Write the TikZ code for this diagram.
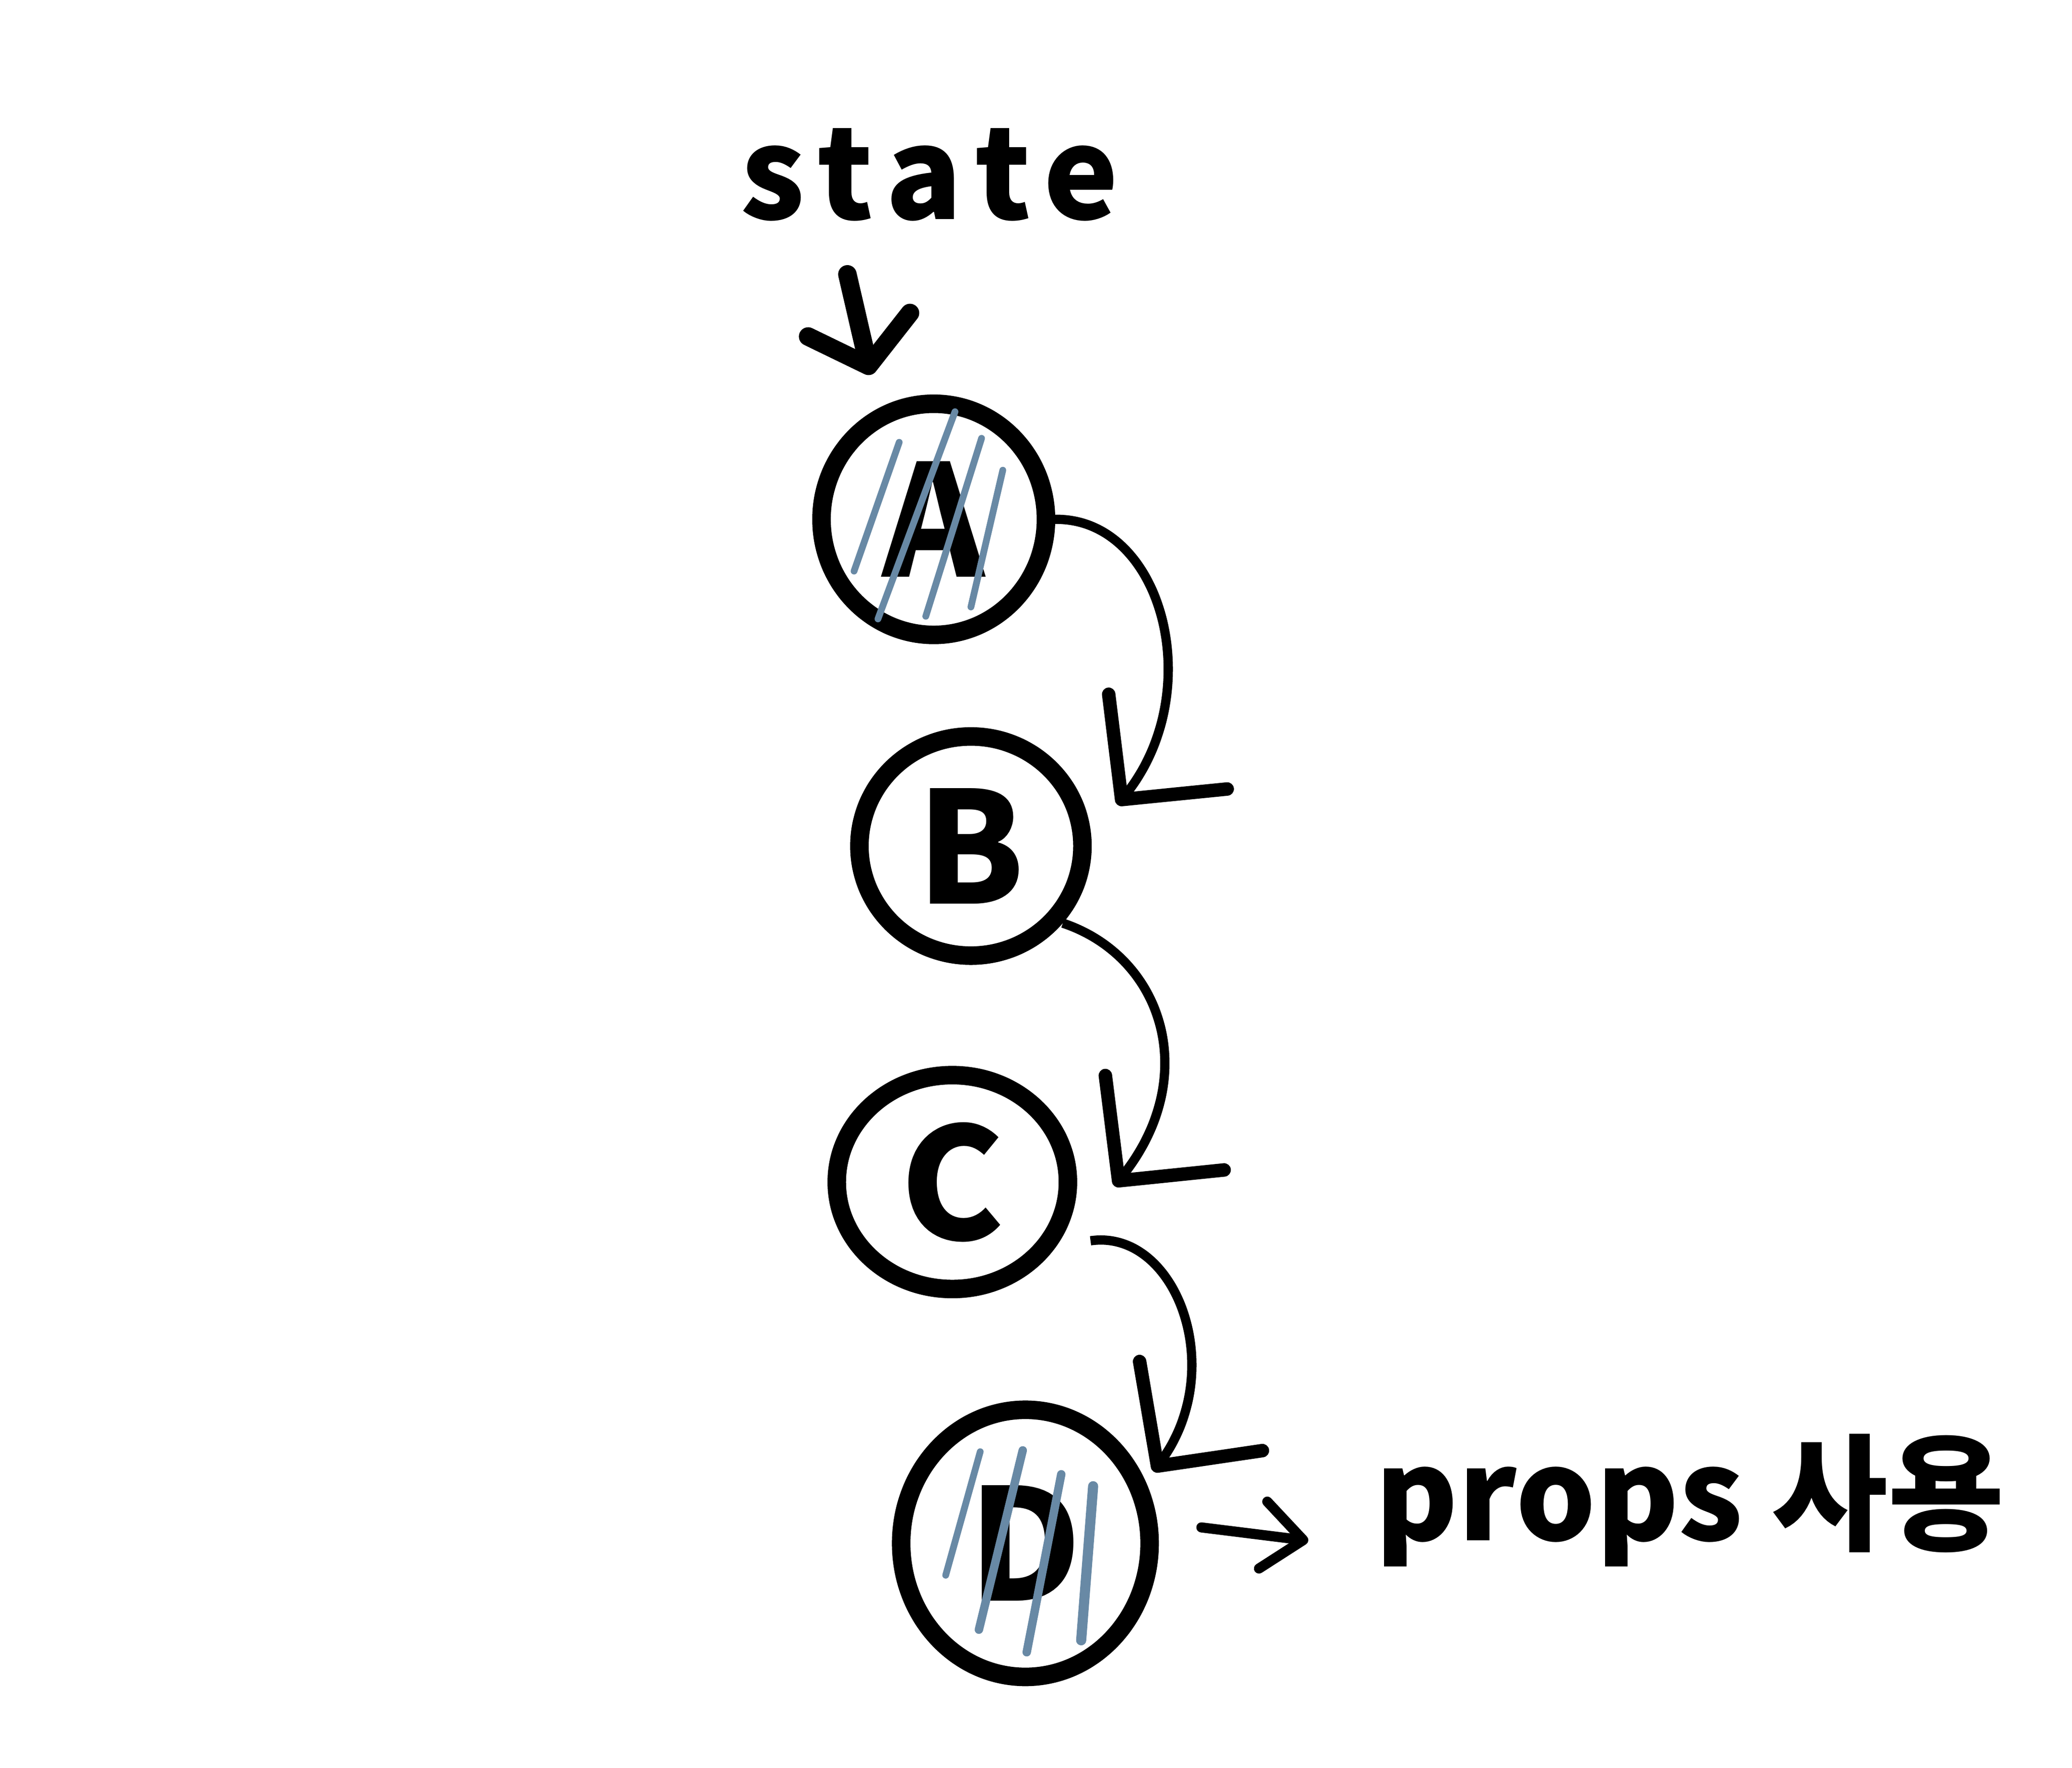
\documentclass[tikz,border=0pt]{standalone}
\usepackage{fontspec}
\setmainfont{Noto Sans CJK KR}
\usepackage{tikz}
\usetikzlibrary{shapes.geometric,arrows.meta,calc}
\definecolor{hatchblue}{RGB}{104,137,165}

\begin{document}
\begin{tikzpicture}[x=0.0277cm, y=-0.0277cm,
  ringnode/.style={ellipse, draw, line width=11pt, inner sep=0pt, font=\fontsize{92}{92}\selectfont\bfseries},
  hatch/.style={hatchblue, line width=4pt, line cap=round},
  flow/.style={line width=5.5pt, -{Straight Barb[length=44pt, width=90pt, line width=2.5pt 1, round]}},
  startarrow/.style={line width=11pt, line cap=round, -{Straight Barb[length=25pt, width=62pt, line width=0pt 1, round]}},
  pointer/.style={line width=6pt, line cap=round, -{Straight Barb[length=24pt, width=40pt, line width=0pt 1, round]}},
  label/.style={inner sep=0pt, font=\fontsize{75}{75}\selectfont\bfseries}]
\useasboundingbox (0,0) rectangle (1560,1331);

\node[label, anchor=base] (state) at (700,165) {\addfontfeature{LetterSpace=12}state};

\node[ringnode, minimum width=4.68cm, minimum height=4.82cm] (A) at (703,391) {A};
\node[ringnode, minimum width=4.65cm, minimum height=4.57cm] (B) at (731,637) {B};
\node[ringnode, minimum width=4.82cm, minimum height=4.46cm] (C) at (717,890) {C};
\node[ringnode, minimum width=5.18cm, minimum height=5.57cm] (D) at (772,1162) {D};

\node[label, anchor=base west] (props) at (1035,1160) {props 사용};

\draw[startarrow] ($(state.south)+(-62,40)$) -- ($(A.115)+(-8,-24)$);
\draw[flow] (A.east) .. controls (875,390) and (910,520) .. ($(B.20)+(25,0)$);
\draw[flow] (B.-40) .. controls (875,720) and (905,810) .. ($(C.east)+(28,3)$);
\draw[flow] ($(C.-25)+(20,5)$) .. controls (885,925) and (925,1030) .. ($(D.30)+(8,-3)$);
\draw[pointer] ($(D.east)+(32,-12)$) -- ($(props.base west)+(-50,0)$);

% strokes over A
\draw[hatch] (677,333) -- (643,430);
\draw[hatch] (719,310) -- (661,466);
\draw[hatch] (739,330) -- (697,464);
\draw[hatch] (755,354) -- (731,457);

% strokes over D
\draw[hatch] (738,1093) -- (712,1186);
\draw[hatch, line width=5pt] (770,1092) -- (737,1227);
\draw[hatch, line width=5pt] (799,1110) -- (773,1244);
\draw[hatch, line width=6pt] (823,1119) -- (814,1235);
\end{tikzpicture}
\end{document}
